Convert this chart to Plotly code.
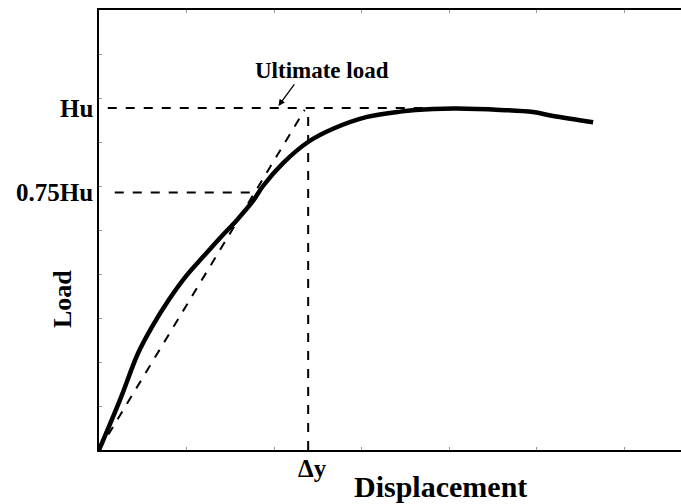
import plotly.graph_objects as go

# Load-displacement curve (arbitrary units)
disp = [0.0, 0.24, 0.446, 0.60, 0.80, 1.006, 1.189, 1.383, 1.577, 1.76,
        1.874, 2.103, 2.389, 2.674, 3.063, 3.44, 3.817, 4.091, 4.583, 4.96, 5.189, 5.646]
load = [0.0, 1.14, 2.20, 2.78, 3.42, 3.98, 4.39, 4.82, 5.23, 5.66,
        6.00, 6.52, 7.00, 7.30, 7.57, 7.69, 7.75, 7.76, 7.73, 7.68, 7.59, 7.45]

Hu = 7.77
Hu75 = 5.85
dy = 2.39

hu_line_x = [0.10, 4.09]
hu75_line_x = [0.18, 1.82]
secant_x = [0.0, 2.35]
secant_y = [0.0, 7.73]

FONT = "Liberation Serif"

fig = go.Figure()
dash = dict(color="black", width=2, dash="dash")
fig.add_trace(go.Scatter(x=hu_line_x, y=[Hu, Hu], mode="lines", line=dash))
fig.add_trace(go.Scatter(x=hu75_line_x, y=[Hu75, Hu75], mode="lines", line=dash))
fig.add_trace(go.Scatter(x=[dy, dy], y=[0, Hu], mode="lines", line=dash))
fig.add_trace(go.Scatter(x=secant_x, y=secant_y, mode="lines", line=dash))
fig.add_trace(go.Scatter(x=disp, y=load, mode="lines",
                         line=dict(color="black", width=4.5, shape="spline", smoothing=1.0)))

bold = dict(family=FONT, color="black", weight="bold")
ann = []
ann.append(dict(x=0, y=Hu, xref="x", yref="y", text="Hu", showarrow=False,
                xanchor="right", yanchor="middle", xshift=-4,
                font=dict(**bold, size=25)))
ann.append(dict(x=0, y=Hu75, xref="x", yref="y", text="0.75Hu", showarrow=False,
                xanchor="right", yanchor="middle", xshift=-4,
                font=dict(**bold, size=25)))
ann.append(dict(x=dy, y=0, xref="x", yref="y", text="Δy", showarrow=False,
                xanchor="center", yanchor="top", xshift=4, yshift=-3,
                font=dict(**bold, size=25)))
ann.append(dict(x=0.586, y=-0.084, xref="paper", yref="paper", text="Displacement",
                showarrow=False, xanchor="center", yanchor="middle",
                font=dict(**bold, size=30)))
ann.append(dict(x=-0.0636, y=0.343, xref="paper", yref="paper", text="Load",
                showarrow=False, xanchor="center", yanchor="middle", textangle=-90,
                font=dict(**bold, size=26)))
ann.append(dict(x=2.55, y=Hu, xref="x", yref="y", text="Ultimate load", showarrow=False,
                xanchor="center", yanchor="middle", yshift=38,
                font=dict(**bold, size=23)))
ann.append(dict(x=2.05, y=7.82, xref="x", yref="y", text="", showarrow=True,
                ax=17, ay=-23, arrowhead=2, arrowsize=1, arrowwidth=1.3, arrowcolor="black"))

fig.update_layout(
    width=681, height=504,
    margin=dict(l=99, r=0, t=10, b=54),
    paper_bgcolor="white", plot_bgcolor="white",
    showlegend=False,
    annotations=ann,
    xaxis=dict(range=[0, 6.65], showgrid=False, zeroline=False, showline=True,
               linecolor="black", linewidth=2, mirror="ticks", ticks="inside",
               ticklen=3, tickcolor="#999", dtick=1, tick0=0, showticklabels=False),
    yaxis=dict(range=[0, 10], showgrid=False, zeroline=False, showline=True,
               linecolor="black", linewidth=2, mirror=False, ticks="inside",
               ticklen=3, tickcolor="#999", dtick=1, tick0=0, showticklabels=False),
)

fig.write_html(
    "out.html",
    config={"displayModeBar": False},
    post_script="document.body.style.margin='0';document.body.style.overflow='hidden';",
)
